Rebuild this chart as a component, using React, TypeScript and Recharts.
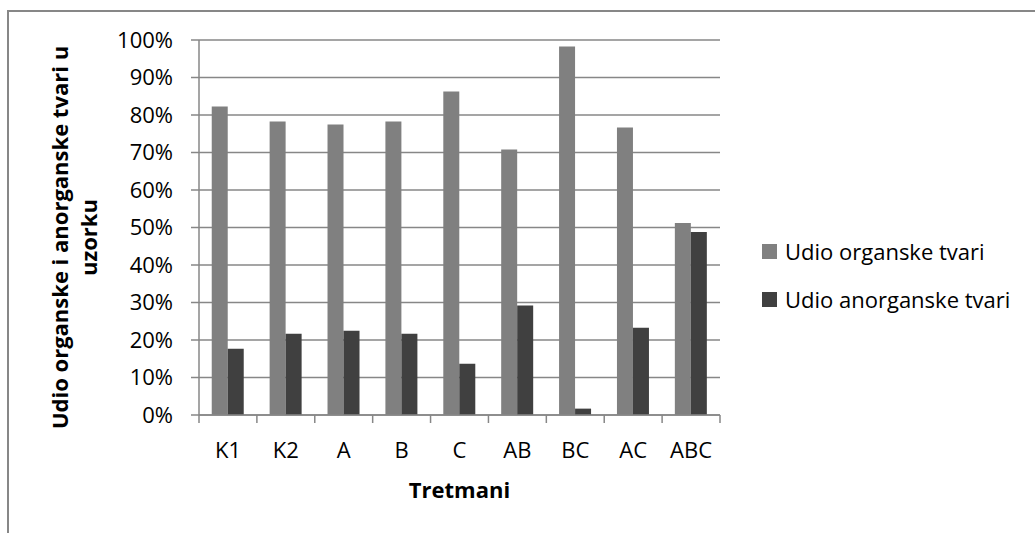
import React from 'react';
import { BarChart, Bar, XAxis, YAxis, CartesianGrid, Legend } from 'recharts';

const categories = ['K1', 'K2', 'A', 'B', 'C', 'AB', 'BC', 'AC', 'ABC'];
const organic = [0.823, 0.783, 0.775, 0.783, 0.863, 0.708, 0.983, 0.767, 0.512];
const inorganic = [0.177, 0.217, 0.225, 0.217, 0.137, 0.292, 0.017, 0.233, 0.488];
const yTicks = [0, 0.1, 0.2, 0.3, 0.4, 0.5, 0.6, 0.7, 0.8, 0.9, 1];

const seriesNames = ['Udio organske tvari', 'Udio anorganske tvari'];
const yTitle = ['Udio organske i anorganske tvari u', 'uzorku'];
const xTitle = 'Tretmani';

const data = categories.map((name, i) => ({
  name,
  organic: organic[i],
  inorganic: inorganic[i],
}));

const FONT = '"Open Sans", sans-serif';
const GRID = '#878787';

const XTick = (props: any) => {
  const { x, y, payload, index, width, visibleTicksCount } = props;
  const band = width / visibleTicksCount;
  const last = index === visibleTicksCount - 1;
  return (
    <g>
      <line x1={x - band / 2} x2={x - band / 2} y1={y} y2={y + 8} stroke={GRID} strokeWidth={1.5} />
      {last && <line x1={x + band / 2} x2={x + band / 2} y1={y} y2={y + 8} stroke={GRID} strokeWidth={1.5} />}
      <text x={x} y={y + 43} textAnchor="middle" fontSize={22} fontFamily={FONT} fill="#000">
        {payload.value}
      </text>
    </g>
  );
};

const YTitle = (props: any) => {
  const { viewBox } = props;
  const cy = viewBox.y + viewBox.height / 2 + 10;
  return (
    <g>
      {yTitle.map((line, i) => {
        const cx = 59 + i * 29;
        return (
          <text
            key={i}
            x={cx}
            y={cy}
            transform={`rotate(-90, ${cx}, ${cy})`}
            textAnchor="middle"
            dominantBaseline="central"
            fontSize={22}
            fontWeight="bold"
            fontFamily={FONT}
            fill="#000"
          >
            {line}
          </text>
        );
      })}
    </g>
  );
};

const XTitle = (props: any) => {
  const { viewBox } = props;
  return (
    <text
      x={viewBox.x + viewBox.width / 2}
      y={viewBox.y + 83}
      textAnchor="middle"
      fontSize={22}
      fontWeight="bold"
      fontFamily={FONT}
      fill="#000"
    >
      {xTitle}
    </text>
  );
};

const LegendContent = (props: any) => {
  const items = [...(props.payload || [])].sort(
    (a: any, b: any) => seriesNames.indexOf(a.value) - seriesNames.indexOf(b.value)
  );
  return (
    <div style={{ fontFamily: FONT, fontSize: 22, color: '#000' }}>
      {items.map((entry: any, i: number) => (
        <div key={i} style={{ display: 'flex', alignItems: 'center', height: 48, whiteSpace: 'nowrap' }}>
          <span style={{ width: 15, height: 15, background: entry.color, marginRight: 8, display: 'inline-block' }} />
          <span>{entry.value}</span>
        </div>
      ))}
    </div>
  );
};

export default function App() {
  return (
    <div style={{ position: 'absolute', left: 0, top: 0, width: 1035, height: 533, overflow: 'hidden', background: '#fff' }}>
      <div
        style={{
          position: 'absolute',
          left: 7,
          top: 10,
          width: 1100,
          height: 600,
          borderTop: `2px solid ${GRID}`,
          borderLeft: `2px solid ${GRID}`,
        }}
      />
      <div style={{ position: 'absolute', left: 0, top: 0 }}>
        <BarChart
          width={1035}
          height={533}
          data={data}
          margin={{ top: 40, right: 315, bottom: 18, left: 0 }}
          barCategoryGap="22%"
          barGap={0}
        >
          <CartesianGrid vertical={false} stroke={GRID} strokeWidth={1.5} />
          <XAxis
            dataKey="name"
            height={100}
            stroke={GRID}
            strokeWidth={1.5}
            tickLine={false}
            tickSize={0}
            tickMargin={0}
            interval={0}
            tick={<XTick />}
            label={<XTitle />}
          />
          <YAxis
            width={199}
            domain={[0, 1]}
            ticks={yTicks}
            interval={0}
            tickFormatter={(v: number) => `${Math.round(v * 100)}%`}
            stroke={GRID}
            strokeWidth={1.5}
            tickSize={8}
            tickMargin={18}
            tick={{ fontSize: 22, fontFamily: FONT, fill: '#000' }}
            label={<YTitle />}
          />
          <Legend
            layout="vertical"
            align="center"
            verticalAlign="middle"
            content={<LegendContent />}
            wrapperStyle={{ left: 762, top: 227, width: 270 }}
          />
          <Bar dataKey="organic" name={seriesNames[0]} fill="#808080" isAnimationActive={false} />
          <Bar dataKey="inorganic" name={seriesNames[1]} fill="#404040" isAnimationActive={false} />
        </BarChart>
      </div>
    </div>
  );
}
